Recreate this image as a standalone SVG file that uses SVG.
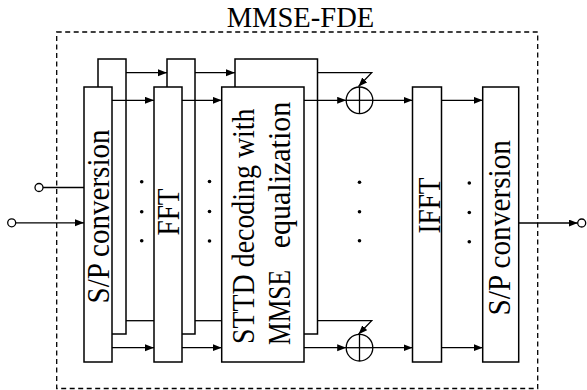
<svg xmlns="http://www.w3.org/2000/svg" width="587" height="390" viewBox="0 0 587 390">
<defs>
<marker id="ah" markerWidth="10" markerHeight="8" refX="9" refY="3.5" orient="auto" markerUnits="userSpaceOnUse">
<path d="M0,0 L9,3.5 L0,7 z" fill="#000"/>
</marker>
<style>
.blk{fill:#fff;stroke:#000;stroke-width:1.5}
.ln{fill:none;stroke:#000;stroke-width:1.3}
.ar{fill:none;stroke:#000;stroke-width:1.3;marker-end:url(#ah)}
.term{fill:#fff;stroke:#000;stroke-width:1.3}
.dot{fill:#000}
.t{font-family:"Liberation Serif","Times New Roman",serif;font-size:31px;fill:#000}
.title{font-family:"Liberation Serif","Times New Roman",serif;font-size:28.5px;fill:#000}
</style>
</defs>
<rect x="0" y="0" width="587" height="390" fill="#fff"/>
<g id="border">
<rect x="56.7" y="32" width="481" height="356.5" fill="none" stroke="#000" stroke-width="1.3" stroke-dasharray="5,3.5"/>
<text class="title" x="226.7" y="27.3" textLength="147.6" lengthAdjust="spacingAndGlyphs">MMSE-FDE</text>
</g>
<g id="sp-in">
<rect class="blk" x="98" y="59" width="28" height="275"/>
<rect class="blk" x="84" y="87" width="28" height="275"/>
<text class="t" transform="translate(109.3,303.5) rotate(-90)" textLength="174" lengthAdjust="spacingAndGlyphs">S/P conversion</text>
</g>
<g id="fft">
<rect class="blk" x="167" y="59" width="28" height="275"/>
<rect class="blk" x="154" y="87" width="28" height="275"/>
<text class="t" transform="translate(178.5,235.5) rotate(-90)" textLength="47" lengthAdjust="spacingAndGlyphs">FFT</text>
</g>
<g id="sttd">
<rect class="blk" x="235" y="59" width="82.5" height="275"/>
<rect class="blk" x="221.7" y="87" width="82.3" height="275"/>
<text class="t" transform="translate(253.5,344) rotate(-90)" textLength="235.5" lengthAdjust="spacingAndGlyphs">STTD decoding with</text>
<text class="t" transform="translate(289.5,345) rotate(-90)"><tspan textLength="75" lengthAdjust="spacingAndGlyphs">MMSE</tspan> <tspan x="96.7" textLength="146.6" lengthAdjust="spacingAndGlyphs">equalization</tspan></text>
</g>
<g id="sum-top">
<circle class="ln" cx="359.5" cy="100.3" r="13.3"/>
<line class="ln" x1="346.2" y1="100.3" x2="372.8" y2="100.3"/>
<line class="ln" x1="359.5" y1="87" x2="359.5" y2="113.6"/>
</g>
<g id="sum-bottom">
<circle class="ln" cx="359.5" cy="347.7" r="13.3"/>
<line class="ln" x1="346.2" y1="347.7" x2="372.8" y2="347.7"/>
<line class="ln" x1="359.5" y1="334.4" x2="359.5" y2="361"/>
</g>
<g id="ifft">
<rect class="blk" x="412.5" y="87" width="29" height="275"/>
<text class="t" transform="translate(439.5,233.5) rotate(-90)" textLength="56" lengthAdjust="spacingAndGlyphs">IFFT</text>
</g>
<g id="sp-out">
<rect class="blk" x="482.7" y="87" width="36" height="275"/>
<text class="t" transform="translate(510,315.5) rotate(-90)" textLength="175.5" lengthAdjust="spacingAndGlyphs">S/P conversion</text>
</g>
<g id="dots">
<circle class="dot" cx="141.7" cy="181.8" r="1.8"/><circle class="dot" cx="141.7" cy="211.7" r="1.8"/><circle class="dot" cx="141.7" cy="240.7" r="1.8"/>
<circle class="dot" cx="209.5" cy="181.5" r="1.8"/><circle class="dot" cx="209.5" cy="211.5" r="1.8"/><circle class="dot" cx="209.5" cy="241" r="1.8"/>
<circle class="dot" cx="359.5" cy="182.3" r="1.8"/><circle class="dot" cx="359.5" cy="211.7" r="1.8"/><circle class="dot" cx="359.5" cy="240.7" r="1.8"/>
<circle class="dot" cx="469.3" cy="183" r="1.8"/><circle class="dot" cx="469.3" cy="212.5" r="1.8"/><circle class="dot" cx="469.3" cy="241.7" r="1.8"/>
</g>
<g id="connectors">
<line class="ln" x1="43" y1="187.5" x2="84" y2="187.5"/>
<line class="ar" x1="15.7" y1="222.8" x2="84" y2="222.8"/>
<line class="ar" x1="126" y1="72.7" x2="167" y2="72.7"/>
<line class="ar" x1="112" y1="100.3" x2="154" y2="100.3"/>
<line class="ln" x1="126" y1="320.7" x2="154" y2="320.7"/>
<line class="ar" x1="112" y1="347.7" x2="154" y2="347.7"/>
<line class="ar" x1="195" y1="72.7" x2="235" y2="72.7"/>
<line class="ar" x1="182" y1="100.3" x2="221.7" y2="100.3"/>
<line class="ln" x1="195" y1="320.7" x2="221.7" y2="320.7"/>
<line class="ar" x1="182" y1="347.7" x2="221.7" y2="347.7"/>
<line class="ar" x1="304" y1="100.3" x2="346.2" y2="100.3"/>
<line class="ar" x1="304" y1="347.7" x2="346.2" y2="347.7"/>
<polyline class="ar" points="317.5,72.7 371.7,72.7 358.5,86.5"/>
<polyline class="ar" points="317.5,320.7 371.7,320.7 358.5,334.2"/>
<line class="ar" x1="372.8" y1="100.3" x2="412.5" y2="100.3"/>
<line class="ar" x1="372.8" y1="347.7" x2="412.5" y2="347.7"/>
<line class="ar" x1="441.5" y1="100.3" x2="482.7" y2="100.3"/>
<line class="ar" x1="441.5" y1="347.7" x2="482.7" y2="347.7"/>
<line class="ar" x1="518.7" y1="223" x2="577.7" y2="223"/>
</g>
<g id="terminals">
<circle class="term" cx="39" cy="187.5" r="4"/>
<circle class="term" cx="11.7" cy="222.8" r="4"/>
<circle class="term" cx="581.7" cy="223" r="4"/>
</g>
</svg>
